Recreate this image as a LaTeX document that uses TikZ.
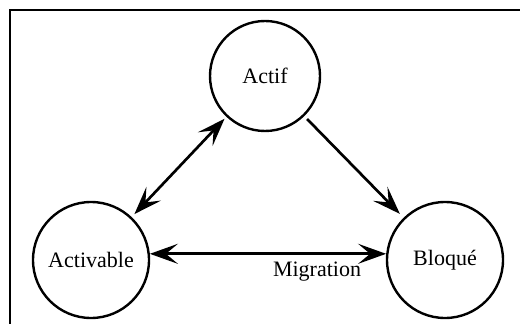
\documentclass[tikz,border=0pt]{standalone}
\usepackage{fontspec}
\setmainfont{Liberation Serif}
\usetikzlibrary{arrows.meta}
\begin{document}
\begin{tikzpicture}[x=0.75pt,y=-0.75pt,
  state/.style={circle, draw, line width=1.8pt, inner sep=0pt, font=\fontsize{16.5}{19}\selectfont},
  lbl/.style={inner sep=0pt, font=\fontsize{16.5}{19}\selectfont},
  link/.style={line width=2pt},
  both/.style={{Stealth[length=21pt,width=15pt,inset=9pt]}-{Stealth[length=21pt,width=15pt,inset=9pt]}},
  fwd/.style={-{Stealth[length=21pt,width=15pt,inset=9pt]}},
]
\useasboundingbox (0,0) rectangle (520,324);
\draw[line width=2.2pt] (10,324) -- (10,10) -- (520,10);
\node[state, minimum size=82.5pt] (actif) at (265,76) {Actif};
\node[state, minimum size=87pt] (activable) at (91,260) {Activable};
\node[state, minimum size=87pt] (bloque) at (445,260) {Bloqué};
\draw[link, both, shorten <=3pt, shorten >=2pt] (activable) -- (actif);
\draw[link, fwd, shorten <=3pt, shorten >=4pt] (actif) -- (bloque);
\draw[link, both] (activable.6) -- (bloque.174);
\node[lbl] (mig) at (317,272) {Migration};
\end{tikzpicture}
\end{document}
